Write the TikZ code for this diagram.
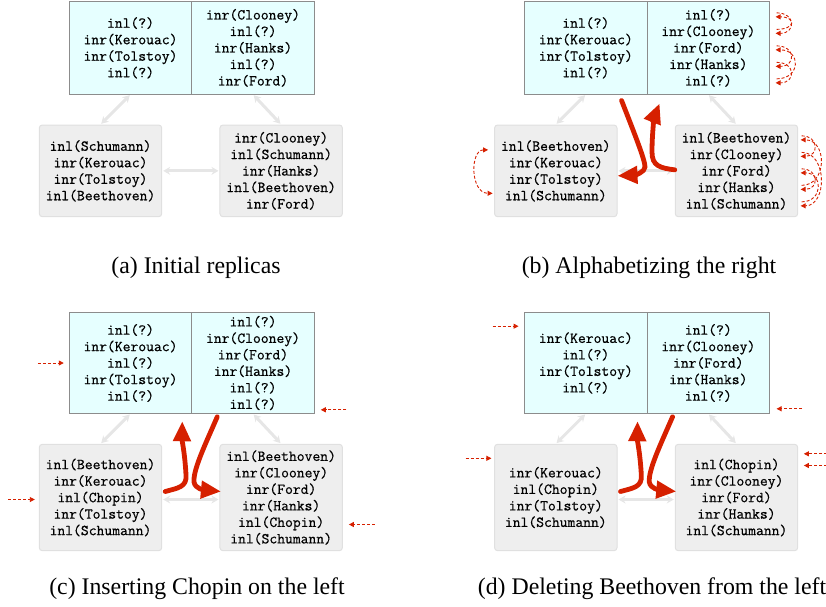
\documentclass[tikz,border=0pt]{standalone}
\usepackage{fontspec}
\setmainfont{Liberation Serif}
\newfontfamily\listfont[FakeBold=0.6]{Latin Modern Mono}
\usetikzlibrary{arrows.meta}
\definecolor{cyanfill}{HTML}{E6FFFF}
\definecolor{topborder}{HTML}{8C8C8C}
\definecolor{grayfill}{HTML}{EEEEEE}
\definecolor{grayborder}{HTML}{E0E0E0}
\definecolor{grayarrow}{HTML}{E6E6E6}
\definecolor{redarrow}{HTML}{D62000}
\begin{document}
\begin{tikzpicture}[x=1pt,y=-1pt,
  listtext/.style={font=\listfont\fontsize{15.2}{16.5}\selectfont, align=center, inner sep=0pt},
  tophalf/.style={listtext, draw=topborder, fill=cyanfill, line width=1pt, minimum width=122.5pt},
  botbox/.style={listtext, draw=grayborder, fill=grayfill, line width=1pt, rounded corners=3pt, minimum width=122.4pt},
  sync/.style={draw=grayarrow, line width=3pt, {Stealth[length=7pt,width=8pt]}-{Stealth[length=7pt,width=8pt]}, shorten <=1pt, shorten >=1pt},
  bigred/.style={draw=redarrow, line width=4.8pt, line cap=round, -{Triangle[length=20pt,width=17pt]}},
  moved/.style={draw=redarrow, line width=0.9pt, dash pattern=on 3pt off 2pt, -{Triangle[length=5pt,width=5pt]}},
  caption/.style={font=\fontsize{23.8}{28}\selectfont, anchor=base, inner sep=0pt}
]
\useasboundingbox (0,0) rectangle (826,606);

% ---------------- panel (a)
\node[tophalf, minimum height=92.3pt] (aTL) at (130.5,47.85) {inl(?)\\inr(Kerouac)\\inr(Tolstoy)\\inl(?)};
\node[tophalf, minimum height=92.3pt] (aTR) at (253,47.85) {inr(Clooney)\\inl(?)\\inr(Hanks)\\inl(?)\\inr(Ford)};
\node[botbox, minimum height=91.7pt] (aBL) at (100.5,170.85) {inl(Schumann)\\inr(Kerouac)\\inr(Tolstoy)\\inl(Beethoven)};
\node[botbox, minimum height=91.7pt] (aBR) at (281.15,170.85) {inr(Clooney)\\inl(Schumann)\\inr(Hanks)\\inl(Beethoven)\\inr(Ford)};
\draw[sync] (aTL.south) -- (aBL.north);
\draw[sync] (aTR.south) -- (aBR.north);
\draw[sync] (aBL.east) -- (aBR.west);
\node[caption] (capa) at (196,273.8) {(a) Initial replicas};

% ---------------- panel (b)
\node[tophalf, minimum height=92.3pt] (bTL) at (585.8,47.85) {inl(?)\\inr(Kerouac)\\inr(Tolstoy)\\inl(?)};
\node[tophalf, minimum height=92.3pt] (bTR) at (708.3,47.85) {inl(?)\\inr(Clooney)\\inr(Ford)\\inr(Hanks)\\inl(?)};
\node[botbox, minimum height=91.7pt] (bBL) at (555.8,170.85) {inl(Beethoven)\\inr(Kerouac)\\inr(Tolstoy)\\inl(Schumann)};
\node[botbox, minimum height=91.7pt] (bBR) at (736.45,170.85) {inl(Beethoven)\\inr(Clooney)\\inr(Ford)\\inr(Hanks)\\inl(Schumann)};
\draw[sync] (bTL.south) -- (bBL.north);
\draw[sync] (bTR.south) -- (bBR.north);
\draw[sync] (bBL.east) -- (bBR.west);
% permutation of the top right half
\draw[moved] ([shift={(6.5,-35)}]bTR.east) .. controls (796,12.85) and (796,33.35) .. ([shift={(5.5,-14.5)}]bTR.east);
\draw[moved] ([shift={(6.5,-18.5)}]bTR.east) .. controls (796,29.35) and (796,16.85) .. ([shift={(5.5,-31)}]bTR.east);
\draw[moved] ([shift={(6.5,-2)}]bTR.east) .. controls (796,45.85) and (796,66.35) .. ([shift={(5.5,18.5)}]bTR.east);
\draw[moved] ([shift={(6.5,14.5)}]bTR.east) .. controls (796,62.35) and (796,82.85) .. ([shift={(5.5,35)}]bTR.east);
\draw[moved] ([shift={(6.5,31)}]bTR.east) .. controls (801,78.85) and (801,49.85) .. ([shift={(5.5,2)}]bTR.east);
% permutation of the bottom right replica
\draw[moved] ([shift={(3.5,-35)}]bBR.east) .. controls (819.1,135.85) and (819.1,156.35) .. ([shift={(2.5,-14.5)}]bBR.east);
\draw[moved] ([shift={(3.5,-18.5)}]bBR.east) .. controls (827.4,152.35) and (827.4,205.85) .. ([shift={(2.5,35)}]bBR.east);
\draw[moved] ([shift={(3.5,-2)}]bBR.east) .. controls (819.1,168.85) and (819.1,189.35) .. ([shift={(2.5,18.5)}]bBR.east);
\draw[moved] ([shift={(3.5,14.5)}]bBR.east) .. controls (827.4,185.35) and (827.4,139.85) .. ([shift={(2.5,-31)}]bBR.east);
\draw[moved] ([shift={(3.5,31)}]bBR.east) .. controls (823.3,201.85) and (823.3,172.85) .. ([shift={(2.5,2)}]bBR.east);
% swap in the bottom left replica
\draw[moved, {Triangle[length=5pt,width=5pt]}-{Triangle[length=5pt,width=5pt]}] ([shift={(-6,-21)}]bBL.west) .. controls (470,150) and (470,193) .. ([shift={(-1.5,22.5)}]bBL.west);
% merge arrows
\draw[bigred] ([shift={(-25,6)}]bTR.south west) .. controls (635,135) and (645,160) .. (645,167) .. controls (645,172) and (635,175) .. ([shift={(0,5)}]bBL.east);
\draw[bigred] ([shift={(0,-1)}]bBR.west) .. controls (660,168) and (652,166) .. (652,152) .. controls (652,130) and (655,115) .. ([shift={(13,9)}]bTR.south west);
\node[caption] (capb) at (649,273.8) {(b) Alphabetizing the right};

% ---------------- panel (c)
\node[tophalf, minimum height=100.6pt] (cTL) at (130.5,363) {inl(?)\\inr(Kerouac)\\inl(?)\\inr(Tolstoy)\\inl(?)};
\node[tophalf, minimum height=100.6pt] (cTR) at (253,363) {inl(?)\\inr(Clooney)\\inr(Ford)\\inr(Hanks)\\inl(?)\\inl(?)};
\node[botbox, minimum height=106.4pt] (cBL) at (100.5,497.5) {inl(Beethoven)\\inr(Kerouac)\\inl(Chopin)\\inr(Tolstoy)\\inl(Schumann)};
\node[botbox, minimum height=106.4pt] (cBR) at (281.15,497.5) {inl(Beethoven)\\inr(Clooney)\\inr(Ford)\\inr(Hanks)\\inl(Chopin)\\inl(Schumann)};
\draw[sync] (cTL.south) -- (cBL.north);
\draw[sync] (cTR.south) -- (cBR.north);
\draw[sync] ([shift={(0,2)}]cBL.east) -- ([shift={(0,2)}]cBR.west);
\draw[moved] ([shift={(-31,0)}]cTL.west) -- ([shift={(-5,0)}]cTL.west);
\draw[moved] ([shift={(-30.5,2)}]cBL.west) -- ([shift={(-4,2)}]cBL.west);
\draw[moved] ([shift={(31.5,-4)}]cTR.south east) -- ([shift={(6,-4)}]cTR.south east);
\draw[moved] ([shift={(31.7,27)}]cBR.east) -- ([shift={(6,27)}]cBR.east);
\draw[bigred] ([shift={(25,3)}]cTL.south east) .. controls (205,445) and (193,470) .. (194,482) .. controls (195,489) and (205,490) .. ([shift={(1.5,-6)}]cBR.west);
\draw[bigred] ([shift={(3,-6)}]cBL.east) .. controls (178,488) and (187,487) .. (186,475) .. controls (185,455) and (182,440) .. ([shift={(-10,7.4)}]cTL.south east);
\node[caption] (capc) at (197,594) {(c) Inserting Chopin on the left};

% ---------------- panel (d)
\node[tophalf, minimum height=100.6pt] (dTL) at (585.8,363) {inr(Kerouac)\\inl(?)\\inr(Tolstoy)\\inl(?)};
\node[tophalf, minimum height=100.6pt] (dTR) at (708.3,363) {inl(?)\\inr(Clooney)\\inr(Ford)\\inr(Hanks)\\inl(?)};
\node[botbox, minimum height=106.4pt] (dBL) at (555.8,497.5) {inr(Kerouac)\\inl(Chopin)\\inr(Tolstoy)\\inl(Schumann)};
\node[botbox, minimum height=106.4pt] (dBR) at (736.45,497.5) {inl(Chopin)\\inr(Clooney)\\inr(Ford)\\inr(Hanks)\\inl(Schumann)};
\draw[sync] (dTL.south) -- (dBL.north);
\draw[sync] (dTR.south) -- (dBR.north);
\draw[sync] ([shift={(0,2)}]dBL.east) -- ([shift={(0,2)}]dBR.west);
\draw[moved] ([shift={(-31.5,14)}]dTL.north west) -- ([shift={(-5.5,14)}]dTL.north west);
\draw[moved] ([shift={(32,-5)}]dTR.south east) -- ([shift={(6.5,-5)}]dTR.south east);
\draw[moved] ([shift={(-28.5,14.5)}]dBL.north west) -- ([shift={(-2.7,14.5)}]dBL.north west);
\draw[moved] ([shift={(29,10)}]dBR.north east) -- ([shift={(5.7,10)}]dBR.north east);
\draw[moved] ([shift={(29,21.7)}]dBR.north east) -- ([shift={(5.7,21.7)}]dBR.north east);
\draw[bigred] ([shift={(25,3)}]dTL.south east) .. controls (660.3,445) and (648.3,470) .. (649.3,482) .. controls (650.3,489) and (660.3,490) .. ([shift={(1.5,-6)}]dBR.west);
\draw[bigred] ([shift={(3,-6)}]dBL.east) .. controls (633.3,488) and (642.3,487) .. (641.3,475) .. controls (640.3,455) and (637.3,440) .. ([shift={(-10,7.4)}]dTL.south east);
\node[caption] (capd) at (652,594) {(d) Deleting Beethoven from the left};
\end{tikzpicture}
\end{document}
